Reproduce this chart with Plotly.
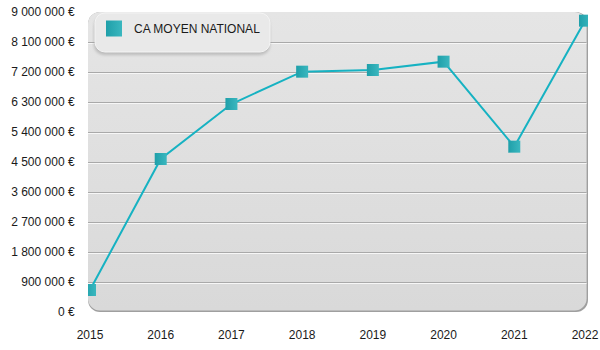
import base64
import plotly.graph_objects as go

# Average turnover per year
years = [2015, 2016, 2017, 2018, 2019, 2020, 2021, 2022]
ca_moyen = [660000, 4590000, 6240000, 7210000, 7260000, 7510000, 4960000, 8740000]
series_name = "CA MOYEN NATIONAL"

y_ticks = [0, 900000, 1800000, 2700000, 3600000, 4500000, 5400000,
           6300000, 7200000, 8100000, 9000000]
y_labels = ["0 €", "900 000 €", "1 800 000 €", "2 700 000 €", "3 600 000 €",
            "4 500 000 €", "5 400 000 €", "6 300 000 €", "7 200 000 €",
            "8 100 000 €", "9 000 000 €"]
x_labels = [str(y) for y in years]

FONT = "Liberation Sans, Arial, sans-serif"
LINE_COLOR = "#16b2c2"
MARK_COLOR = "#1f9fa9"
MARK_LIGHT = "#3ab7bf"


def svg_uri(svg):
    return "data:image/svg+xml;base64," + base64.b64encode(svg.encode()).decode()


# rounded, softly shaded plot panel with a grey edge on the right and bottom
panel_svg = """<svg xmlns="http://www.w3.org/2000/svg" width="500" height="300"
 viewBox="0 0 500 300" preserveAspectRatio="none">
<defs><linearGradient id="g" x1="0" y1="0" x2="0" y2="1">
<stop offset="0" stop-color="#e5e5e5"/><stop offset="1" stop-color="#d9d9d9"/>
</linearGradient></defs>
<rect x="0" y="0" width="500" height="300" rx="12" ry="12" fill="#9f9f9f"/>
<rect x="0" y="0" width="498.6" height="298.6" rx="12" ry="12" fill="url(#g)"/>
</svg>"""

# legend card with a soft drop shadow
legend_svg = """<svg xmlns="http://www.w3.org/2000/svg" width="184" height="46"
 viewBox="0 0 184 46" preserveAspectRatio="none">
<defs><filter id="s" x="-10%" y="-20%" width="120%" height="150%">
<feGaussianBlur stdDeviation="1.6"/></filter></defs>
<rect x="2" y="4" width="176" height="39" rx="10" ry="10" fill="#9a9a9a" opacity="0.55" filter="url(#s)"/>
<rect x="3" y="1" width="175" height="39" rx="10" ry="10" fill="#e9e9e9" stroke="#f4f4f4" stroke-width="1"/>
</svg>"""

fig = go.Figure()

fig.add_trace(go.Scatter(
    x=years, y=ca_moyen, mode="lines+markers", name=series_name,
    showlegend=False, cliponaxis=True,
    line=dict(color=LINE_COLOR, width=2),
    marker=dict(symbol="square", size=12, color=MARK_COLOR,
                gradient=dict(type="horizontal", color=MARK_LIGHT),
                line=dict(width=0)),
    hoverinfo="skip",
))

# legend entry (marker only)
fig.add_trace(go.Scatter(
    x=[None], y=[None], mode="markers", name=series_name, showlegend=True,
    marker=dict(symbol="square", size=20, color=MARK_COLOR,
                gradient=dict(type="horizontal", color=MARK_LIGHT),
                line=dict(width=0)),
))

# grid lines with a white highlight just beneath each one
shapes = []
for v in y_ticks[1:-1]:
    shapes.append(dict(type="line", xref="paper", yref="y", x0=0, x1=0.997,
                       ysizemode="pixel", yanchor=v, y0=-0.5, y1=-0.5,
                       line=dict(color="#a9a9a9", width=1), layer="below"))
    shapes.append(dict(type="line", xref="paper", yref="y", x0=0, x1=0.997,
                       ysizemode="pixel", yanchor=v, y0=-1.5, y1=-1.5,
                       line=dict(color="#f7f7f7", width=1), layer="below"))

fig.update_layout(
    width=600, height=350,
    margin=dict(l=88, r=12, t=12, b=38, autoexpand=False),
    paper_bgcolor="white", plot_bgcolor="rgba(0,0,0,0)",
    font=dict(family=FONT, size=12, color="#1a1a1a"),
    shapes=shapes,
    images=[
        dict(source=svg_uri(panel_svg), xref="paper", yref="paper",
             x=0, y=1, sizex=1, sizey=1, sizing="stretch",
             xanchor="left", yanchor="top", layer="below"),
        dict(source=svg_uri(legend_svg), xref="paper", yref="paper",
             x=(92 - 88) / 500, y=1 + 0 / 300, sizex=184 / 500, sizey=46 / 300,
             sizing="stretch", xanchor="left", yanchor="top", layer="above"),
    ],
    showlegend=True,
    legend=dict(x=(94 - 88) / 500, y=1 - (14 - 12) / 300, xanchor="left", yanchor="top",
                bgcolor="rgba(0,0,0,0)", borderwidth=0,
                font=dict(family=FONT, size=12, color="#1a1a1a")),
    xaxis=dict(range=[2015 - 2 / 70.7, 2022 + 3 / 70.7], tickvals=years, ticktext=x_labels,
               showgrid=False, zeroline=False, showline=False, automargin=False,
               ticks="outside", ticklen=12, tickcolor="rgba(0,0,0,0)",
               tickfont=dict(size=12), fixedrange=True),
    yaxis=dict(range=[0, 9000000], tickvals=y_ticks, ticktext=y_labels,
               showgrid=False, zeroline=False, showline=False, automargin=False,
               ticks="outside", ticklen=10, tickcolor="rgba(0,0,0,0)",
               tickfont=dict(size=12), fixedrange=True),
)

fig.write_html("out.html", config=dict(displayModeBar=False))
